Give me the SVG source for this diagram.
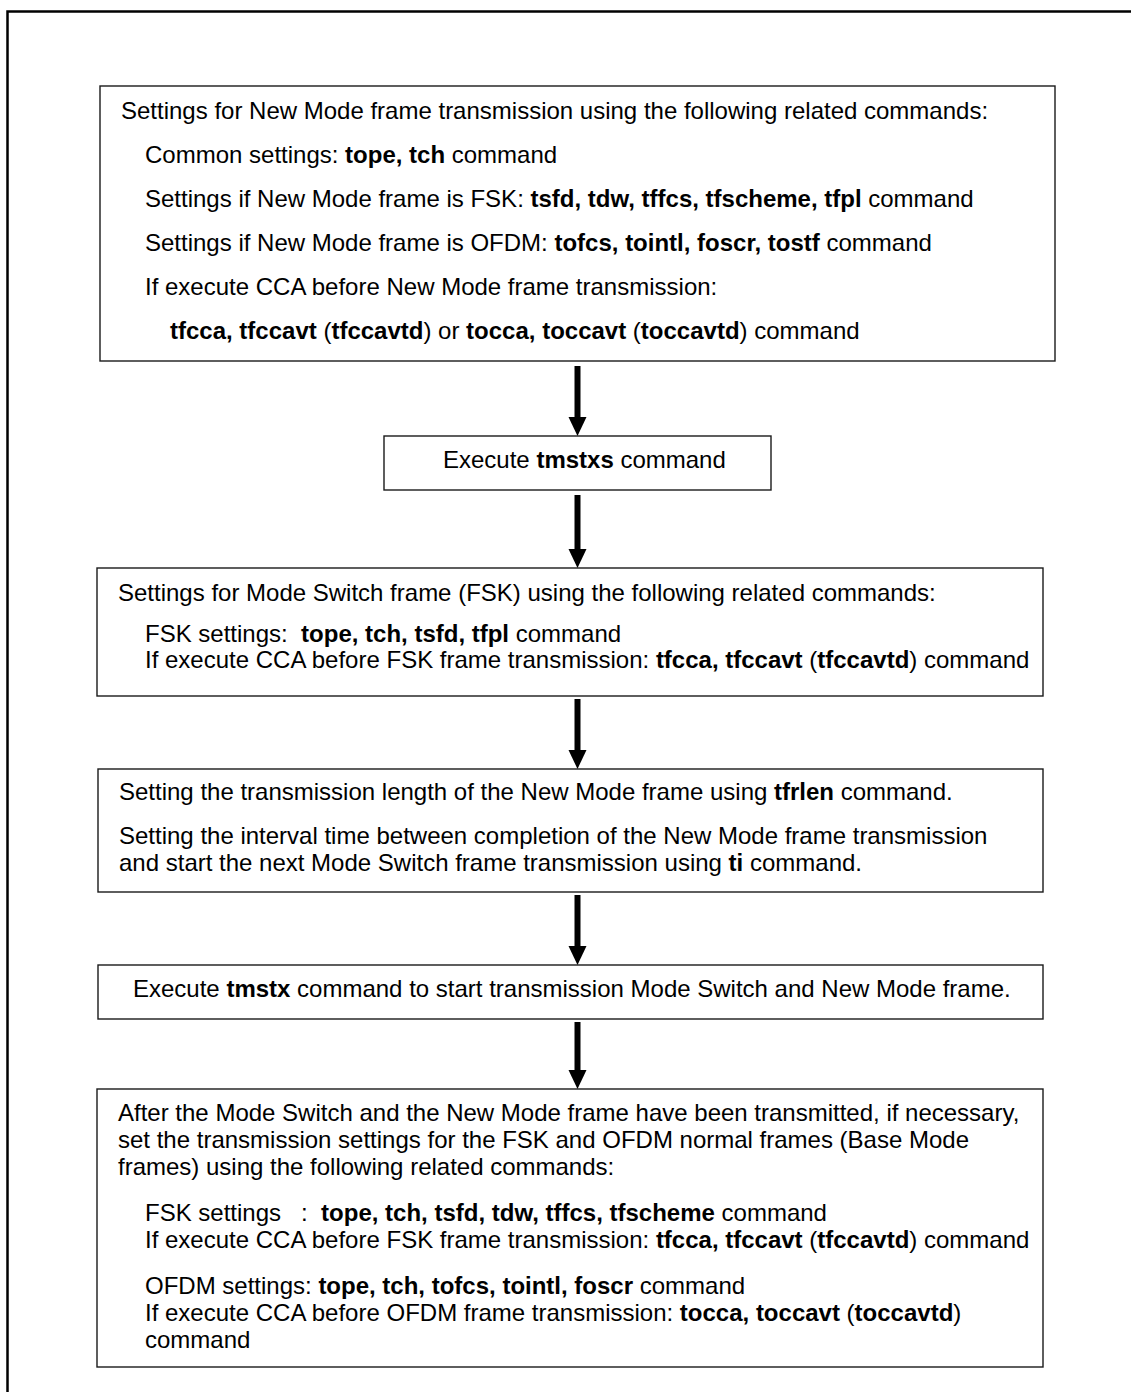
<svg xmlns="http://www.w3.org/2000/svg" width="1131" height="1392" viewBox="0 0 1131 1392">
<defs>
<style>
.box{fill:#fff;stroke:#1a1a1a;stroke-width:1.4}
.t{font-family:"Liberation Sans",Arial,sans-serif;font-size:24px;fill:#000}
.b{font-weight:bold}
.shaft{stroke:#000;stroke-width:6;fill:none}
.head{fill:#000}
</style>
</defs>
<rect x="0" y="0" width="1131" height="1392" fill="#fff"/>
<rect x="7.5" y="11.5" width="1300" height="1500" fill="none" stroke="#000" stroke-width="2.5"/>

<g id="connectors">
<line class="shaft" x1="577.5" y1="366" x2="577.5" y2="420"/>
<polygon class="head" points="568.5,417 586.5,417 577.5,436"/>
<line class="shaft" x1="577.5" y1="495" x2="577.5" y2="552"/>
<polygon class="head" points="568.5,549 586.5,549 577.5,568"/>
<line class="shaft" x1="577.5" y1="699" x2="577.5" y2="753"/>
<polygon class="head" points="568.5,750 586.5,750 577.5,769"/>
<line class="shaft" x1="577.5" y1="895" x2="577.5" y2="949"/>
<polygon class="head" points="568.5,946 586.5,946 577.5,965"/>
<line class="shaft" x1="577.5" y1="1022" x2="577.5" y2="1073"/>
<polygon class="head" points="568.5,1070 586.5,1070 577.5,1089"/>
</g>

<g id="node1">
<rect class="box" x="100" y="86" width="955" height="275"/>
<text class="t" x="121" y="119">Settings for New Mode frame transmission using the following related commands:</text>
<text class="t" x="145" y="163">Common settings: <tspan class="b">tope, tch</tspan> command</text>
<text class="t" x="145" y="207">Settings if New Mode frame is FSK: <tspan class="b">tsfd, tdw, tffcs, tfscheme, tfpl</tspan> command</text>
<text class="t" x="145" y="251">Settings if New Mode frame is OFDM: <tspan class="b">tofcs, tointl, foscr, tostf</tspan> command</text>
<text class="t" x="145" y="295">If execute CCA before New Mode frame transmission:</text>
<text class="t" x="170" y="339"><tspan class="b">tfcca, tfccavt</tspan> (<tspan class="b">tfccavtd</tspan>) or <tspan class="b">tocca, toccavt</tspan> (<tspan class="b">toccavtd</tspan>) command</text>
</g>

<g id="node2">
<rect class="box" x="384" y="436" width="387" height="54"/>
<text class="t" x="443" y="468">Execute <tspan class="b">tmstxs</tspan> command</text>
</g>

<g id="node3">
<rect class="box" x="97" y="568" width="946" height="128"/>
<text class="t" x="118" y="601">Settings for Mode Switch frame (FSK) using the following related commands:</text>
<text class="t" x="145" y="642" xml:space="preserve">FSK settings:  <tspan class="b">tope, tch, tsfd, tfpl</tspan> command</text>
<text class="t" x="145" y="668">If execute CCA before FSK frame transmission: <tspan class="b">tfcca, tfccavt</tspan> (<tspan class="b">tfccavtd</tspan>) command</text>
</g>

<g id="node4">
<rect class="box" x="98" y="769" width="945" height="123"/>
<text class="t" x="119" y="800">Setting the transmission length of the New Mode frame using <tspan class="b">tfrlen</tspan> command.</text>
<text class="t" x="119" y="844">Setting the interval time between completion of the New Mode frame transmission</text>
<text class="t" x="119" y="871">and start the next Mode Switch frame transmission using <tspan class="b">ti</tspan> command.</text>
</g>

<g id="node5">
<rect class="box" x="98" y="965" width="945" height="54"/>
<text class="t" x="133" y="997">Execute <tspan class="b">tmstx</tspan> command to start transmission Mode Switch and New Mode frame.</text>
</g>

<g id="node6">
<rect class="box" x="97" y="1089" width="946" height="278"/>
<text class="t" x="118" y="1121">After the Mode Switch and the New Mode frame have been transmitted, if necessary,</text>
<text class="t" x="118" y="1148">set the transmission settings for the FSK and OFDM normal frames (Base Mode</text>
<text class="t" x="118" y="1175">frames) using the following related commands:</text>
<text class="t" x="145" y="1221" xml:space="preserve">FSK settings   :  <tspan class="b">tope, tch, tsfd, tdw, tffcs, tfscheme</tspan> command</text>
<text class="t" x="145" y="1248">If execute CCA before FSK frame transmission: <tspan class="b">tfcca, tfccavt</tspan> (<tspan class="b">tfccavtd</tspan>) command</text>
<text class="t" x="145" y="1294">OFDM settings: <tspan class="b">tope, tch, tofcs, tointl, foscr</tspan> command</text>
<text class="t" x="145" y="1321">If execute CCA before OFDM frame transmission: <tspan class="b">tocca, toccavt</tspan> (<tspan class="b">toccavtd</tspan>)</text>
<text class="t" x="145" y="1348">command</text>
</g>
</svg>
